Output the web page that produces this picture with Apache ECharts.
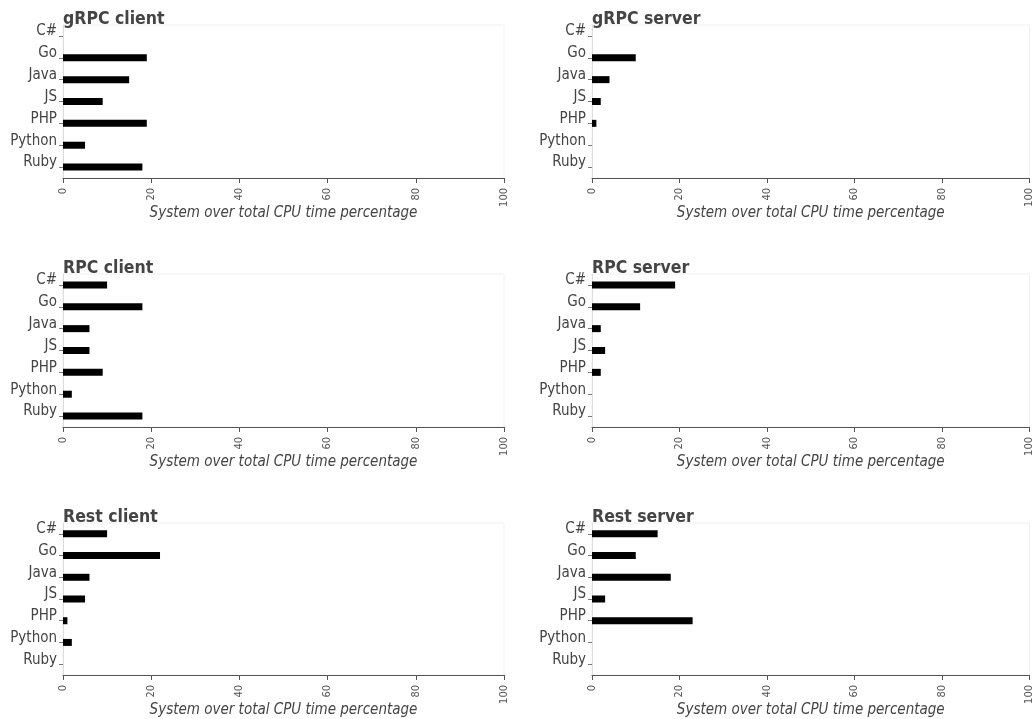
<!DOCTYPE html>
<html>
<head>
<meta charset="utf-8">
<script src="https://cdn.jsdelivr.net/npm/echarts@6/dist/echarts.min.js"></script>
<style>
  html, body { margin: 0; padding: 0; background: #fff; }
  #chart { width: 1035px; height: 719px; }
</style>
</head>
<body>
<div id="chart"></div>
<script>
// Languages on every panel's vertical axis (top to bottom)
const languages = ['C#', 'Go', 'Java', 'JS', 'PHP', 'Python', 'Ruby'];

// System over total CPU time percentage, per language
const grpcClient = [0, 19, 15, 9, 19, 5, 18];
const grpcServer = [0, 10, 4, 2, 1, 0, 0];
const rpcClient  = [10, 18, 6, 6, 9, 2, 18];
const rpcServer  = [19, 11, 2, 3, 2, 0, 0];
const restClient = [10, 22, 6, 5, 1, 2, 0];
const restServer = [15, 10, 18, 3, 23, 0, 0];

const panelTitles = ['gRPC client', 'gRPC server', 'RPC client', 'RPC server', 'Rest client', 'Rest server'];
const panelValues = [grpcClient, grpcServer, rpcClient, rpcServer, restClient, restServer];

const xTicks = { min: 0, max: 100, interval: 20 };
const xAxisTitle = 'System over total CPU time percentage';

const FONT = '"DejaVu Sans Condensed", "DejaVu Sans", sans-serif';
const lefts = [63, 592];
const tops = [25, 274, 523];
const gridW = 441, gridH = 153;

const grids = [], xAxes = [], yAxes = [], series = [], titles = [];
panelValues.forEach((vals, i) => {
  const col = i % 2, row = Math.floor(i / 2);
  grids.push({
    left: lefts[col], top: tops[row], width: gridW, height: gridH,
    show: true, borderColor: '#f0f0f0', borderWidth: 1, backgroundColor: 'transparent'
  });
  titles.push({
    text: panelTitles[i], left: lefts[col], top: tops[row] - 15, padding: 0,
    textStyle: { fontFamily: FONT, fontSize: 17.5, fontWeight: 'bold', color: '#444' }
  });
  xAxes.push({
    gridIndex: i, type: 'value', min: xTicks.min, max: xTicks.max, interval: xTicks.interval,
    name: xAxisTitle, nameLocation: 'middle', nameGap: 28, nameMoveOverlap: false,
    nameTextStyle: { fontFamily: FONT, fontSize: 15, fontStyle: 'italic', color: '#444' },
    axisLine: { show: true, lineStyle: { color: '#555', width: 1 } },
    axisTick: { show: true, length: 5, lineStyle: { color: '#555' } },
    axisLabel: { rotate: 90, margin: 10, fontFamily: FONT, fontSize: 11, color: '#555' },
    splitLine: { show: false }
  });
  yAxes.push({
    gridIndex: i, type: 'category', data: languages, inverse: true,
    axisLine: { show: true, lineStyle: { color: '#ddd' } },
    axisTick: { show: true, alignWithLabel: true, length: 4, lineStyle: { color: '#777' } },
    axisLabel: { fontFamily: FONT, fontSize: 15, color: '#444', margin: 6,
                 verticalAlign: 'bottom', lineHeight: 9 },
    splitLine: { show: false }
  });
  series.push({
    type: 'bar', xAxisIndex: i, yAxisIndex: i, data: vals, barWidth: 7,
    itemStyle: { color: '#000' }, silent: true, animation: false
  });
});

const chart = echarts.init(document.getElementById('chart'), null, { renderer: 'canvas' });
chart.setOption({
  animation: false,
  title: titles,
  grid: grids,
  xAxis: xAxes,
  yAxis: yAxes,
  series: series
});
</script>
</body>
</html>
